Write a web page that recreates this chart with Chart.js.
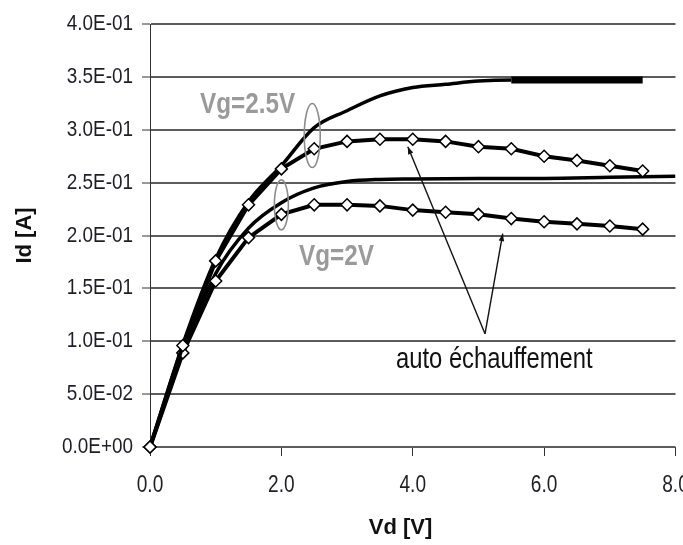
<!DOCTYPE html>
<html lang="fr">
<head>
    <meta charset="UTF-8">
    <title>Id(Vd) - auto échauffement</title>
    <script src="https://cdnjs.cloudflare.com/ajax/libs/Chart.js/4.4.1/chart.umd.min.js"></script>
    <style>
        html, body {
            margin: 0;
            padding: 0;
            background: white;
            overflow: hidden;
        }
        #chart {
            display: block;
        }
    </style>
</head>
<body>

    <canvas id="chart" width="683" height="545"></canvas>

    <script>
        // Mesures avec auto échauffement (losanges)
        const vdMes = [0, 0.5, 1.0, 1.5, 2.0, 2.5, 3.0, 3.5, 4.0, 4.5, 5.0, 5.5, 6.0, 6.5, 7.0, 7.5];
        const idMesVg25 = [0, 0.096, 0.176, 0.229, 0.263, 0.282, 0.289, 0.291, 0.291, 0.289, 0.284, 0.282, 0.275, 0.271, 0.266, 0.261];
        const idMesVg2 = [0, 0.089, 0.157, 0.198, 0.220, 0.229, 0.229, 0.228, 0.224, 0.222, 0.220, 0.216, 0.213, 0.211, 0.209, 0.206];

        // Courbes sans auto échauffement (traits pleins)
        const vdVg25 = [0, 0.5, 1.0, 1.5, 2.0, 2.5, 3.0, 3.5, 4.0, 4.5, 5.0, 5.5, 6.0, 6.5, 7.0, 7.5];
        const idVg25 = [0, 0.097, 0.178, 0.232, 0.266, 0.302, 0.318, 0.332, 0.340, 0.343, 0.346, 0.347, 0.347, 0.347, 0.347, 0.347];
        const vdVg2 = [0, 0.5, 1.0, 1.5, 2.0, 2.5, 3.0, 3.5, 4.0, 5.0, 6.0, 7.0, 8.0];
        const idVg2 = [0, 0.090, 0.164, 0.207, 0.231, 0.245, 0.251, 0.253, 0.2535, 0.254, 0.254, 0.255, 0.256];

        // Graduations
        const xTicks = [0, 2, 4, 6, 8];
        const yTicks = [0, 0.05, 0.10, 0.15, 0.20, 0.25, 0.30, 0.35, 0.40];

        function toPoints(xs, ys) {
            return xs.map((x, i) => ({ x: x, y: ys[i] }));
        }

        // Excel style : 4.0E-01
        function sciLabel(v) {
            let parts = Number(v).toExponential(1).split("e");
            let exp = parseInt(parts[1], 10);
            let sign = exp < 0 ? "-" : "+";
            return parts[0] + "E" + sign + String(Math.abs(exp)).padStart(2, "0");
        }

        // texte étroit (Arial Narrow n'est pas installé)
        function narrowText(ctx, text, x, y, k) {
            ctx.save();
            ctx.translate(x, y);
            ctx.scale(k, 1);
            ctx.fillText(text, 0, 0);
            ctx.restore();
        }

        // libellés des graduations, placés par les échelles
        const tickLabels = {
            id: "tickLabels",
            afterDraw(chart) {
                const ctx = chart.ctx;
                const xs = chart.scales.x;
                const ys = chart.scales.y;
                ctx.save();
                ctx.fillStyle = "#1e1e26";
                ctx.textBaseline = "middle";

                ctx.font = "22px Arial, sans-serif";
                ctx.textAlign = "right";
                yTicks.forEach(v => narrowText(ctx, sciLabel(v), 133, ys.getPixelForValue(v), 0.86));

                ctx.font = "23px Arial, sans-serif";
                ctx.textAlign = "center";
                xTicks.forEach(v => narrowText(ctx, v.toFixed(1), xs.getPixelForValue(v), 486, 0.83));
                ctx.restore();
            }
        };

        // annotations : textes gris, ellipses, flèches
        const annotations = {
            id: "annotations",
            afterDatasetsDraw(chart) {
                const ctx = chart.ctx;
                const xs = chart.scales.x;
                const ys = chart.scales.y;
                const px = v => xs.getPixelForValue(v);
                const py = v => ys.getPixelForValue(v);

                ctx.save();

                // ellipses
                ctx.strokeStyle = "#8c8c8c";
                ctx.lineWidth = 1.6;
                ctx.beginPath();
                ctx.ellipse(px(2.47), py(0.2945), 8, 32, 0, 0, Math.PI * 2);
                ctx.stroke();
                ctx.beginPath();
                ctx.ellipse(px(2.0), py(0.229), 7, 25, 0, 0, Math.PI * 2);
                ctx.stroke();

                // étiquettes Vg
                ctx.fillStyle = "#9a9a9a";
                ctx.textBaseline = "alphabetic";
                ctx.textAlign = "left";
                ctx.font = "bold 30px Arial, sans-serif";
                narrowText(ctx, "Vg=2.5V", 200, 113, 0.81);
                narrowText(ctx, "Vg=2V", 299, 265, 0.81);

                // flèches
                const vertex = { x: px(5.10), y: py(0.107) };
                const tips = [
                    { x: px(3.925), y: py(0.284) },
                    { x: px(5.37), y: py(0.2018) }
                ];
                ctx.strokeStyle = "#111";
                ctx.fillStyle = "#111";
                ctx.lineWidth = 1.4;
                tips.forEach(t => {
                    ctx.beginPath();
                    ctx.moveTo(vertex.x, vertex.y);
                    ctx.lineTo(t.x, t.y);
                    ctx.stroke();
                    let a = Math.atan2(t.y - vertex.y, t.x - vertex.x);
                    ctx.beginPath();
                    ctx.moveTo(t.x, t.y);
                    ctx.lineTo(t.x - 8 * Math.cos(a - 0.35), t.y - 8 * Math.sin(a - 0.35));
                    ctx.lineTo(t.x - 8 * Math.cos(a + 0.35), t.y - 8 * Math.sin(a + 0.35));
                    ctx.closePath();
                    ctx.fill();
                });

                ctx.fillStyle = "#111";
                ctx.font = "29px Arial, sans-serif";
                narrowText(ctx, "auto échauffement", 396, 368, 0.82);

                ctx.restore();
            }
        };

        let ctx = document.getElementById("chart").getContext("2d");
        let chart = new Chart(ctx, {
            type: "line",
            data: {
                datasets: [
                    {
                        label: "Vg=2.5V auto échauffement",
                        data: toPoints(vdMes, idMesVg25),
                        borderColor: "#000",
                        borderWidth: 4,
                        pointStyle: "rectRot",
                        pointRadius: 6,
                        pointBorderWidth: 1.5,
                        pointBackgroundColor: "#fff",
                        pointBorderColor: "#000",
                        clip: false
                    },
                    {
                        label: "Vg=2V auto échauffement",
                        data: toPoints(vdMes, idMesVg2),
                        borderColor: "#000",
                        borderWidth: 4,
                        pointStyle: "rectRot",
                        pointRadius: 6,
                        pointBorderWidth: 1.5,
                        pointBackgroundColor: "#fff",
                        pointBorderColor: "#000",
                        clip: false
                    },
                    {
                        label: "Vg=2.5V",
                        data: toPoints(vdVg25, idVg25),
                        borderColor: "#000",
                        borderWidth: 3.5,
                        pointRadius: 0,
                        cubicInterpolationMode: "monotone",
                        segment: {
                            borderWidth: c => c.p0.parsed.x >= 5.5 ? 7 : 3.5
                        }
                    },
                    {
                        label: "Vg=2V",
                        data: toPoints(vdVg2, idVg2),
                        borderColor: "#000",
                        borderWidth: 3.5,
                        pointRadius: 0,
                        cubicInterpolationMode: "monotone"
                    }
                ]
            },
            options: {
                responsive: false,
                animation: false,
                layout: {
                    padding: { top: 24, right: 0, left: 0, bottom: 0 }
                },
                plugins: {
                    legend: { display: false },
                    tooltip: { enabled: false }
                },
                scales: {
                    x: {
                        type: "linear",
                        min: 0,
                        max: 8,
                        afterBuildTicks: s => { s.ticks = xTicks.map(v => ({ value: v })); },
                        afterFit: s => { s.height = 98; },
                        grid: {
                            drawOnChartArea: false,
                            drawTicks: true,
                            tickLength: 9,
                            tickColor: "#333",
                            tickWidth: 1
                        },
                        border: { display: false },
                        ticks: { display: false },
                        title: {
                            display: true,
                            text: "Vd [V]    ",
                            color: "#111",
                            font: { family: "Arial, sans-serif", size: 22, weight: "bold" },
                            padding: { top: 0, bottom: 4 }
                        }
                    },
                    y: {
                        min: 0,
                        max: 0.4,
                        afterBuildTicks: s => { s.ticks = yTicks.map(v => ({ value: v })); },
                        afterFit: s => { s.width = 150; },
                        grid: {
                            color: "#5c5c5c",
                            lineWidth: 2,
                            tickLength: 8,
                            tickColor: "#333",
                            tickWidth: 1
                        },
                        border: { display: true, color: "#333", width: 1 },
                        ticks: { display: false },
                        title: {
                            display: true,
                            text: "Id [A]",
                            color: "#111",
                            font: { family: "Arial, sans-serif", size: 22, weight: "bold" },
                            padding: { top: 12, bottom: 0 }
                        }
                    }
                }
            },
            plugins: [annotations, tickLabels]
        });
    </script>

</body>
</html>
